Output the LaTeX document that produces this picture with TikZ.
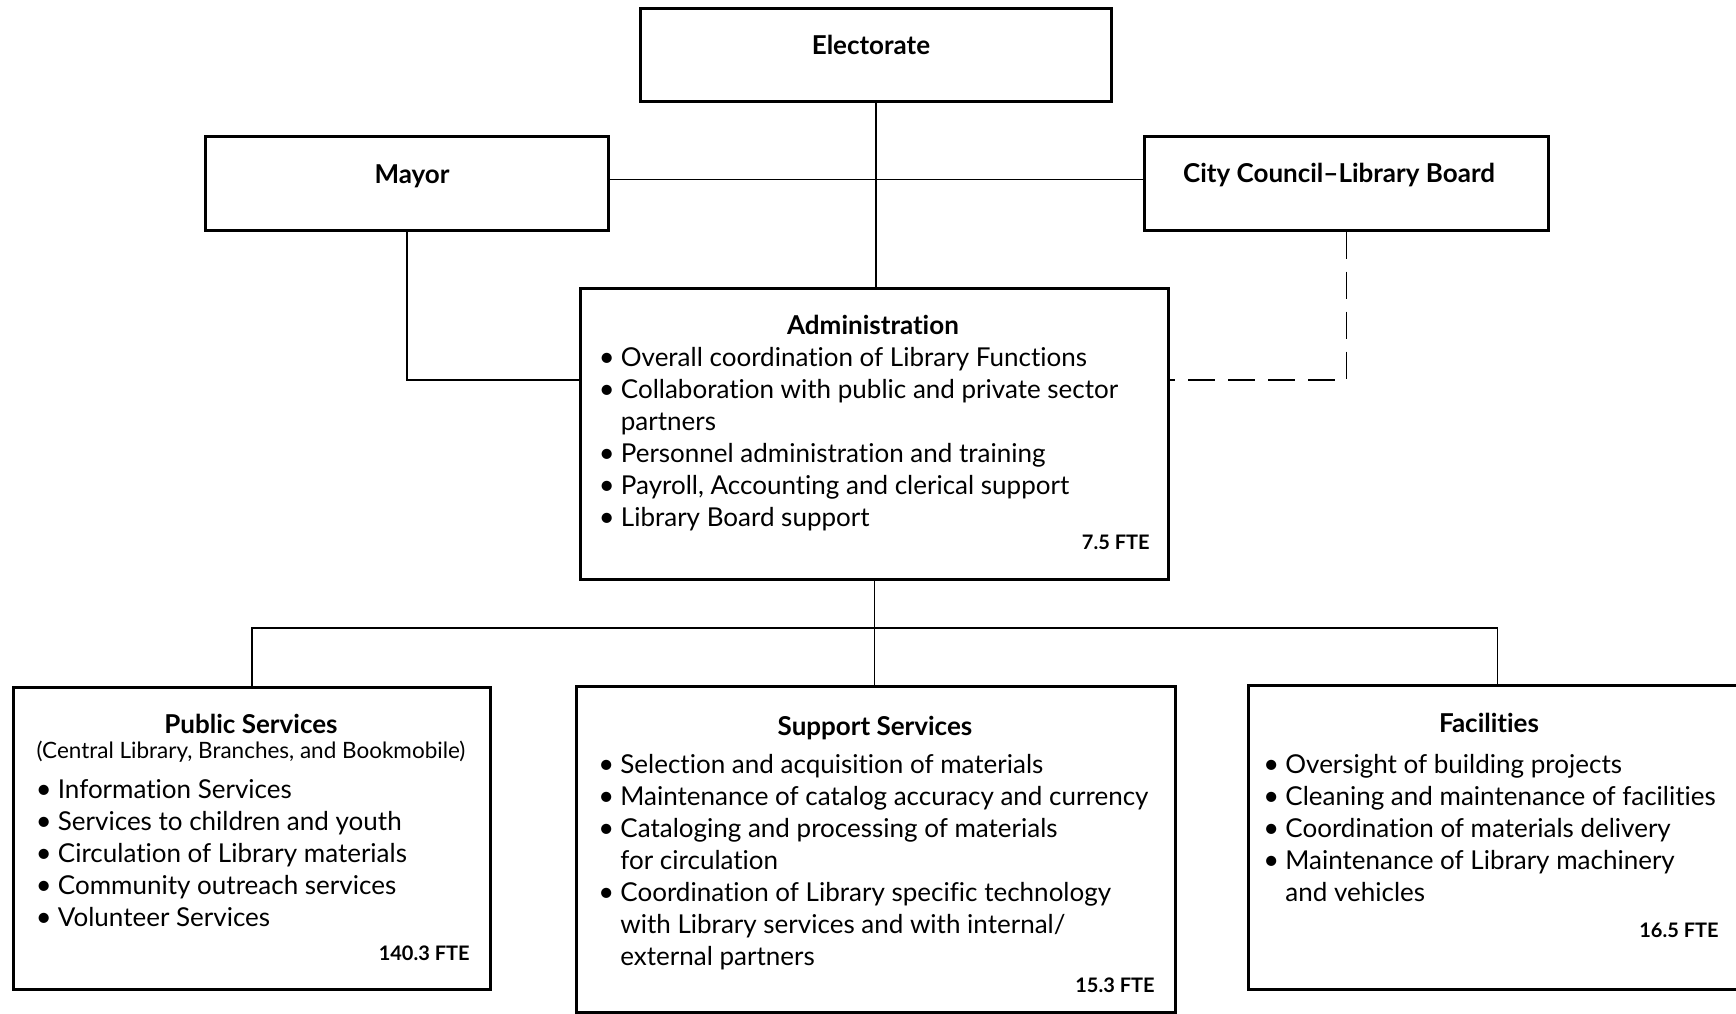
\documentclass[tikz,border=0pt]{standalone}
\usepackage{fontspec}
\setmainfont[Ligatures=NoCommon]{Lato}
\usetikzlibrary{positioning}

\newcommand{\pt}[1]{\makebox[11.5pt][l]{\hspace*{0.5pt}\raisebox{-0.3pt}{\scalebox{1.05}{\textbullet}}}#1}
\newcommand{\ct}[1]{\hspace*{11.5pt}#1}

\begin{document}
\begin{tikzpicture}[x=0.5pt,y=-0.5pt,
  box/.style={draw,line width=1.3pt,rectangle,anchor=north west,inner sep=0pt},
  link/.style={line width=0.8pt},
  dashlink/.style={line width=0.8pt,dash pattern=on 13.5pt off 6.5pt},
  title/.style={font=\bfseries\fontsize{13}{16}\selectfont,inner sep=0pt,anchor=base},
  subtitle/.style={font=\fontsize{11.25}{13}\selectfont,inner sep=0pt,anchor=base},
  body/.style={font=\fontsize{13}{16}\selectfont,inner sep=0pt,anchor=base west},
  fte/.style={font=\bfseries\fontsize{10}{12}\selectfont,inner sep=0pt,anchor=base east}]
\useasboundingbox (0,0) rectangle (1736,1013);

% top row
\node[box,minimum width=235.5pt,minimum height=46.5pt] (electorate) at (639,7) {};
\node[title] (electoratet) at (871,54) {Electorate};
\node[box,minimum width=201.5pt,minimum height=47pt] (mayor) at (204,135) {};
\node[title] (mayort) at (412,183) {Mayor};
\node[box,minimum width=202pt,minimum height=47pt] (council) at (1143,135) {};
\node[title] (councilt) at (1339,182) {City Council--Library Board};

% administration
\node[box,minimum width=294pt,minimum height=145.5pt] (admin) at (579,287) {};
\node[title] (admint) at (873,334) {Administration};
\node[body] (adminl) at (597.5,366) {\begin{tabular}[t]{@{}l@{}}
  \pt{Overall coordination of Library Functions}\\
  \pt{Collaboration with public and private sector}\\
  \ct{partners}\\
  \pt{Personnel administration and training}\\
  \pt{Payroll, Accounting and clerical support}\\
  \pt{Library Board support}
\end{tabular}};
\node[fte] (adminf) at (1150,549) {7.5 FTE};

% lower row
\node[box,minimum width=238.5pt,minimum height=151pt] (public) at (12,686) {};
\node[title] (publict) at (251,733) {Public Services};
\node[subtitle] (publics) at (251,758) {(Central Library, Branches, and Bookmobile)};
\node[body] (publicl) at (34.5,798) {\begin{tabular}[t]{@{}l@{}}
  \pt{Information Services}\\
  \pt{Services to children and youth}\\
  \pt{Circulation of Library materials}\\
  \pt{Community outreach services}\\
  \pt{Volunteer Services}
\end{tabular}};
\node[fte] (publicf) at (470,960) {140.3 FTE};

\node[box,minimum width=299.5pt,minimum height=163pt] (support) at (575,685) {};
\node[title] (supportt) at (875,735) {Support Services};
\node[body] (supportl) at (597,773) {\begin{tabular}[t]{@{}l@{}}
  \pt{Selection and acquisition of materials}\\
  \pt{Maintenance of catalog accuracy and currency}\\
  \pt{Cataloging and processing of materials}\\
  \ct{for circulation}\\
  \pt{Coordination of Library specific technology}\\
  \ct{with Library services and with internal/}\\
  \ct{external partners}
\end{tabular}};
\node[fte] (supportf) at (1155,992) {15.3 FTE};

\node[box,minimum width=249pt,minimum height=152pt] (facilities) at (1247,684) {};
\node[title] (facilitiest) at (1489,732) {Facilities};
\node[body] (facilitiesl) at (1262,773) {\begin{tabular}[t]{@{}l@{}}
  \pt{Oversight of building projects}\\
  \pt{Cleaning and maintenance of facilities}\\
  \pt{Coordination of materials delivery}\\
  \pt{Maintenance of Library machinery}\\
  \ct{and vehicles}
\end{tabular}};
\node[fte] (facilitiesf) at (1719,937) {16.5 FTE};

% connectors
\coordinate (admL) at (579,380);
\coordinate (admR) at (1167,380);
\coordinate (split) at (admin.south |- 0,628);
\draw[link] (electorate.south) -- (electorate.south |- admin.north);
\draw[link] ([yshift=2pt]mayor.east) -- ([yshift=2pt]council.west);
\draw[link] (mayor.south) |- (admL);
\draw[dashlink] (council.south) |- (admR);
\draw[link] (admin.south) -- (split);
\draw[link] (public.north) |- (split) -| (facilities.north);
\draw[link] (split) -- (split |- support.north);
\end{tikzpicture}
\end{document}
